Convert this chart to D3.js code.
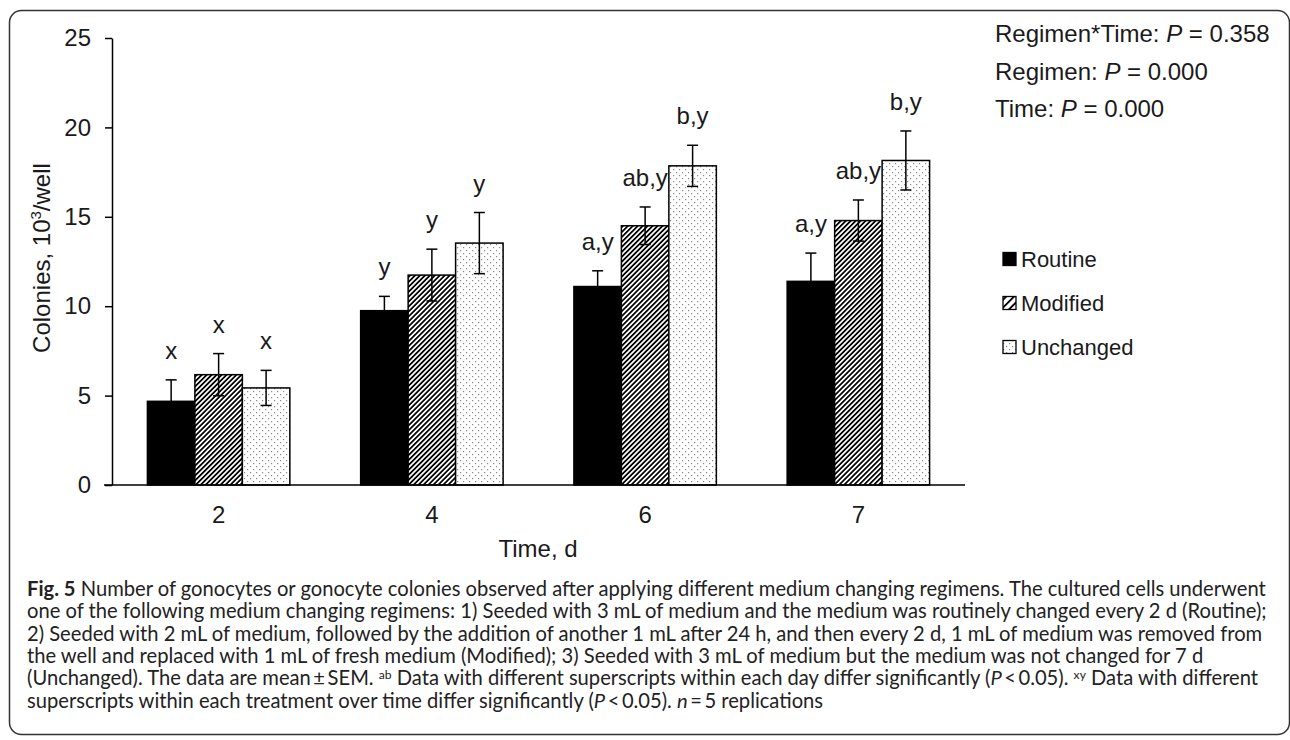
<!DOCTYPE html>
<html><head><meta charset="utf-8">
<script src="https://cdn.jsdelivr.net/npm/d3@7"></script>
<style>body{margin:0;background:#fff}</style>
</head><body>
<svg id="c" width="1290" height="740"></svg>
<script>
// ---------------- data ----------------
const days = ["2", "4", "6", "7"];
const seriesNames = ["Routine", "Modified", "Unchanged"];
const routine   = [4.68, 9.75, 11.10, 11.39];
const modified  = [6.17, 11.74, 14.50, 14.79];
const unchanged = [5.43, 13.53, 17.85, 18.15];
const routineSem   = [1.20, 0.80, 0.88, 1.58];
const modifiedSem  = [1.18, 1.45, 1.05, 1.15];
const unchangedSem = [0.98, 1.71, 1.15, 1.65];
const routineLabels   = ["x", "y", "a,y", "a,y"];
const modifiedLabels  = ["x", "y", "ab,y", "ab,y"];
const unchangedLabels = ["x", "y", "b,y", "b,y"];
const yTicks = [0, 5, 10, 15, 20, 25];
const yTitle = ["Colonies, 10", "3", "/well"];
const xTitle = "Time, d";
const pLines = [
  [["Regimen*Time: ", ""], ["P", "i"], [" = 0.358", ""]],
  [["Regimen: ", ""], ["P", "i"], [" = 0.000", ""]],
  [["Time: ", ""], ["P", "i"], [" = 0.000", ""]]
];
const captionLines = [
  [["Fig. 5", "b"], [" Number of gonocytes or gonocyte colonies observed after applying different medium changing regimens. The cultured cells underwent", ""]],
  [["one of the following medium changing regimens: 1) Seeded with 3 mL of medium and the medium was routinely changed every 2 d (Routine);", ""]],
  [["2) Seeded with 2 mL of medium, followed by the addition of another 1 mL after 24 h, and then every 2 d, 1 mL of medium was removed from", ""]],
  [["the well and replaced with 1 mL of fresh medium (Modified); 3) Seeded with 3 mL of medium but the medium was not changed for 7 d", ""]],
  [["(Unchanged). The data are mean\u2009\u00b1\u2009SEM. ", ""], ["ab", "sup"], [" Data with different superscripts within each day differ significantly (", ""], ["P", "i"], ["\u2009<\u20090.05). ", ""], ["xy", "sup"], [" Data with different", ""]],
  [["superscripts within each treatment over time differ significantly (", ""], ["P", "i"], ["\u2009<\u20090.05). ", ""], ["n", "i"], ["\u2009=\u20095 replications", ""]]
];

const values = [routine, modified, unchanged];
const sems = [routineSem, modifiedSem, unchangedSem];
const labels = [routineLabels, modifiedLabels, unchangedLabels];

// ---------------- drawing ----------------
const svg = d3.select("#c");
const FONT = "'Liberation Sans', Arial, sans-serif";
const TXT = "#1a1a1a";

svg.append("rect").attr("x", 9.5).attr("y", 10.5).attr("width", 1280).attr("height", 724)
  .attr("rx", 12).attr("fill", "none").attr("stroke", "#333").attr("stroke-width", 1.5);

const defs = svg.append("defs");
function hatch(id, w, sw) {
  const p = defs.append("pattern").attr("id", id).attr("patternUnits", "userSpaceOnUse")
    .attr("width", w).attr("height", w).attr("patternTransform", "rotate(45)");
  p.append("rect").attr("width", w).attr("height", w).attr("fill", "#fff");
  p.append("line").attr("x1", w / 2).attr("y1", -1).attr("x2", w / 2).attr("y2", w + 1)
    .attr("stroke", "#000").attr("stroke-width", sw);
}
hatch("hatch", 3.5, 1.8);
hatch("hatchL", 5.5, 1.8);
const dp = defs.append("pattern").attr("id", "dots").attr("patternUnits", "userSpaceOnUse")
  .attr("width", 6).attr("height", 6);
dp.append("rect").attr("width", 6).attr("height", 6).attr("fill", "#fff");
dp.append("rect").attr("x", 1).attr("y", 1).attr("width", 1.2).attr("height", 1.2).attr("fill", "#8a8a8a");
dp.append("rect").attr("x", 4).attr("y", 4).attr("width", 1.2).attr("height", 1.2).attr("fill", "#8a8a8a");
const fills = ["#000", "url(#hatch)", "url(#dots)"];
const legendFills = ["#000", "url(#hatchL)", "url(#dots)"];

const y = d3.scaleLinear().domain([0, 25]).range([485, 38]);
const x0 = d3.scaleBand().domain(days).range([112, 965]).padding(0);
const groupW = x0.bandwidth() * 0.668;
const x1 = d3.scaleBand().domain(seriesNames).range([0, groupW]).padding(0);

// bars
seriesNames.forEach((s, si) => {
  const g = svg.append("g");
  days.forEach((d, di) => {
    const bx = x0(d) + (x0.bandwidth() - groupW) / 2 + x1(s);
    const v = values[si][di];
    g.append("rect").attr("x", bx).attr("y", y(v)).attr("width", x1.bandwidth())
      .attr("height", y(0) - y(v)).attr("fill", fills[si]).attr("stroke", "#000").attr("stroke-width", 1.5);
  });
});
// error bars and labels
seriesNames.forEach((s, si) => {
  const g = svg.append("g").attr("stroke", "#000").attr("stroke-width", 1.5);
  days.forEach((d, di) => {
    const cx = x0(d) + (x0.bandwidth() - groupW) / 2 + x1(s) + x1.bandwidth() / 2;
    const v = values[si][di], e = sems[si][di];
    g.append("line").attr("x1", cx).attr("x2", cx).attr("y1", y(v - e)).attr("y2", y(v + e));
    g.append("line").attr("x1", cx - 5.5).attr("x2", cx + 5.5).attr("y1", y(v + e)).attr("y2", y(v + e));
    g.append("line").attr("x1", cx - 5.5).attr("x2", cx + 5.5).attr("y1", y(v - e)).attr("y2", y(v - e));
    svg.append("text").attr("x", cx).attr("y", y(v + e) - 21).attr("text-anchor", "middle")
      .attr("font-family", FONT).attr("font-size", 24).attr("fill", TXT).text(labels[si][di]);
  });
});

// y axis
const ya = svg.append("g").attr("transform", "translate(112,0)")
  .call(d3.axisLeft(y).tickValues(yTicks).tickSize(7).tickSizeOuter(0).tickPadding(14));
ya.select(".domain").attr("stroke", "#000").attr("stroke-width", 1.5);
ya.selectAll(".tick line").attr("stroke", "#000").attr("stroke-width", 1.5);
ya.selectAll(".tick text").attr("font-family", FONT).attr("font-size", 24).attr("fill", TXT);

// x axis
svg.append("line").attr("x1", 104).attr("x2", 965).attr("y1", y(0)).attr("y2", y(0))
  .attr("stroke", "#000").attr("stroke-width", 1.5);
svg.append("g").selectAll("text").data(days).join("text")
  .attr("x", d => x0(d) + x0.bandwidth() / 2).attr("y", 523).attr("text-anchor", "middle")
  .attr("font-family", FONT).attr("font-size", 24).attr("fill", TXT).text(d => d);

svg.append("text").attr("x", 538).attr("y", 557).attr("text-anchor", "middle")
  .attr("font-family", FONT).attr("font-size", 24).attr("fill", TXT).text(xTitle);

const yt = svg.append("text").attr("transform", "translate(50,258) rotate(-90)").attr("text-anchor", "middle")
  .attr("font-family", FONT).attr("font-size", 24).attr("fill", TXT);
yt.append("tspan").text(yTitle[0]);
yt.append("tspan").attr("font-size", 15).attr("dy", -9).text(yTitle[1]);
yt.append("tspan").attr("dy", 9).text(yTitle[2]);

// P values
pLines.forEach((line, i) => {
  const t = svg.append("text").attr("x", 995).attr("y", 42 + i * 37.5)
    .attr("font-family", FONT).attr("font-size", 24).attr("fill", TXT);
  line.forEach(([txt, st]) => {
    const ts = t.append("tspan").text(txt);
    if (st === "i") ts.attr("font-style", "italic");
  });
});

// legend
seriesNames.forEach((s, si) => {
  const cy = 259 + si * 44;
  svg.append("rect").attr("x", 1003).attr("y", cy - 6.5).attr("width", 13).attr("height", 13)
    .attr("fill", legendFills[si]).attr("stroke", "#000").attr("stroke-width", 1.3);
  svg.append("text").attr("x", 1021).attr("y", cy).attr("dy", "0.36em")
    .attr("font-family", FONT).attr("font-size", 22).attr("fill", TXT).text(s);
});

// caption
const CAPFONT = "Lato, 'Open Sans', sans-serif";
function renderLine(g, segs, xx, yy, fs) {
  const t = g.append("text").attr("x", xx).attr("y", yy).attr("font-size", fs);
  let raised = false;
  segs.forEach(([txt, st]) => {
    const ts = t.append("tspan").text(txt);
    if (st === "b") ts.attr("font-weight", "bold");
    if (st === "i") ts.attr("font-style", "italic");
    if (st === "sup") { ts.attr("font-size", fs * 0.6).attr("dy", -fs * 0.3); raised = true; }
    else if (raised) { ts.attr("dy", fs * 0.3); raised = false; }
  });
  return t;
}
const cap = svg.append("g").attr("font-family", CAPFONT).attr("fill", "#222");
const probe = renderLine(cap, captionLines[1], 27, -100, 16);
const capFs = 16 * 1241 / probe.node().getComputedTextLength();
probe.remove();
captionLines.forEach((segs, i) => renderLine(cap, segs, 27, 596 + i * 22.3, capFs));
</script>
</body></html>
